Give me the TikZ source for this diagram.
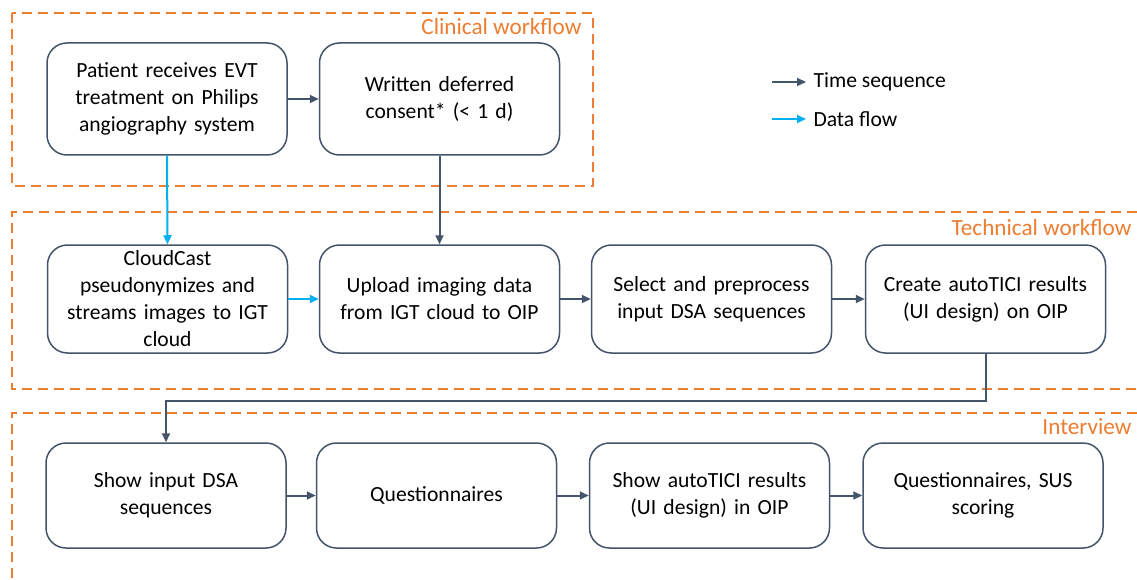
\documentclass[tikz,border=0pt]{standalone}
\usepackage{fontspec}
\setmainfont{Carlito}
\usetikzlibrary{arrows.meta,calc}
\definecolor{SlateBlue}{HTML}{44546A}
\definecolor{FlowCyan}{HTML}{00B0F0}
\definecolor{PhaseOrange}{HTML}{ED7D31}

\begin{document}
\begin{tikzpicture}[x=1pt,y=-1pt,>={Triangle[length=9pt,width=8pt]},line cap=butt,line join=miter,
  stepbox/.style={draw=SlateBlue,line width=1.5pt,rounded corners=20pt,fill=white,
    minimum width=240pt,minimum height=108pt,align=center,text width=232pt,
    font=\fontsize{21.6}{27}\selectfont},
  phase/.style={draw=PhaseOrange,line width=2.5pt,dash pattern=on 10pt off 6pt},
  phaselabel/.style={anchor=east,text=PhaseOrange,font=\fontsize{23.2}{26}\selectfont},
  timearrow/.style={->,draw=SlateBlue,line width=2pt},
  dataarrow/.style={->,draw=FlowCyan,line width=2pt}]

% Canvas: 1 unit = 1 px, y grows downwards
\fill[white] (0,0) rectangle (1137,580);
\useasboundingbox (0,0) rectangle (1137,580);

% ---- PHASES ----
\draw[phase] (12,13) rectangle (593,186);
\draw[phase] (1137,212) -- (12,212) -- (12,389) -- (1137,389);
\draw[phase] (1137,413) -- (12,413) -- (12,585);

\node[phaselabel] (clinical) at (585,27) {Clinical workflow};
\node[phaselabel] (technical) at (1135,228) {Technical workflow};
\node[phaselabel] (interview) at (1135,427) {Interview};

% ---- STEPS ----
% clinical
\node[stepbox,minimum height=112pt] (patient) at (167,99)
  {Patient receives EVT\\treatment on Philips\\angiography system};
\node[stepbox,minimum height=112pt] (consent) at (439.5,99)
  {Written deferred\\consent* (< 1 d)};

% technical
\node[stepbox] (cloudcast) at (167.5,299)
  {CloudCast\\pseudonymizes and\\streams images to IGT\\cloud};
\node[stepbox] (upload) at (439.5,299)
  {Upload imaging data\\from IGT cloud to OIP};
\node[stepbox] (select) at (711.5,299)
  {Select and preprocess\\input DSA sequences};
\node[stepbox] (create) at (985.5,299)
  {Create autoTICI results\\(UI design) on OIP};

% interview
\node[stepbox,minimum height=105pt] (showdsa) at (166,495.5)
  {Show input DSA\\sequences};
\node[stepbox,minimum height=105pt] (quest) at (436.5,495.5)
  {Questionnaires};
\node[stepbox,minimum height=105pt] (showtici) at (709.5,495.5)
  {Show autoTICI results\\(UI design) in OIP};
\node[stepbox,minimum height=105pt] (sus) at (983,495.5)
  {Questionnaires, SUS\\scoring};

% ---- CONNECTORS ----
\draw[timearrow] (patient) -- (consent);
\draw[dataarrow] (patient.south) -- (cloudcast.north);
\draw[timearrow] (consent.south) -- (upload.north);
\draw[dataarrow] (cloudcast) -- (upload);
\draw[timearrow] (upload) -- (select);
\draw[timearrow] (select) -- (create);
\draw[timearrow] (create.south) -- ++(0,47) -| (showdsa.north);
\draw[timearrow] (showdsa) -- (quest);
\draw[timearrow] (quest) -- (showtici);
\draw[timearrow] (showtici) -- (sus);

% ---- LEGEND ----
\coordinate (timeA) at (772,82);
\coordinate (timeB) at (806,82);
\coordinate (dataA) at (772,119);
\coordinate (dataB) at (806,119);
\draw[timearrow] (timeA) -- (timeB);
\draw[dataarrow] (dataA) -- (dataB);
\node[anchor=west,font=\fontsize{21.6}{24}\selectfont] (timetext) at ($(timeB)+(4,0)$) {Time sequence};
\node[anchor=west,font=\fontsize{21.6}{24}\selectfont] (datatext) at ($(dataB)+(4,0)$) {Data flow};

\end{tikzpicture}
\end{document}
